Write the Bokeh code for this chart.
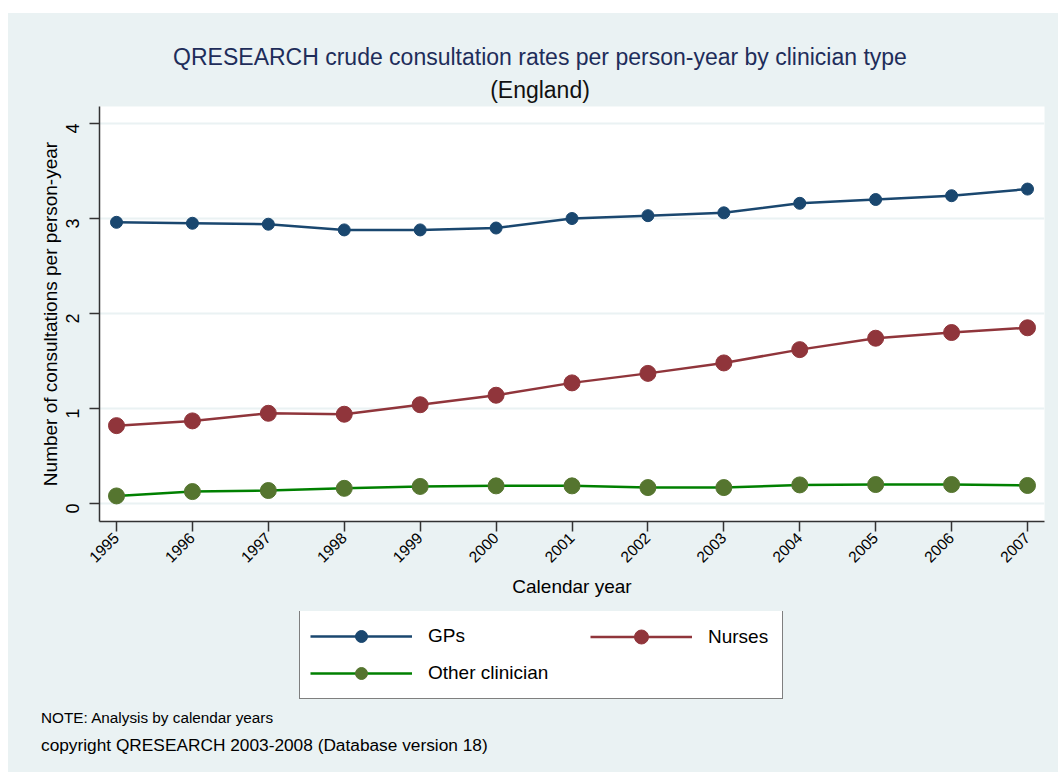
from math import pi
from bokeh.plotting import figure
from bokeh.models import (FixedTicker, Legend, LegendItem, Range1d, ColumnDataSource, Div, Spacer)
from bokeh.layouts import column, row
from bokeh.embed import file_html
from bokeh.resources import INLINE

years = [1995, 1996, 1997, 1998, 1999, 2000, 2001, 2002, 2003, 2004, 2005, 2006, 2007]
gps = [2.96, 2.95, 2.94, 2.88, 2.88, 2.90, 3.00, 3.03, 3.06, 3.16, 3.20, 3.24, 3.31]
nurses = [0.82, 0.87, 0.95, 0.94, 1.04, 1.14, 1.27, 1.37, 1.48, 1.62, 1.74, 1.80, 1.85]
other = [0.08, 0.126, 0.137, 0.16, 0.18, 0.186, 0.186, 0.168, 0.168, 0.196, 0.20, 0.20, 0.19]
y_ticks = [0, 1, 2, 3, 4]
series_cols = ["gps", "nurses", "other"]
series_names = ["GPs", "Nurses", "Other clinician"]
title_text = "QRESEARCH crude consultation rates per person-year by clinician type"
subtitle_text = "(England)"
note_text = "NOTE: Analysis by calendar years"
copyright_text = "copyright QRESEARCH 2003-2008 (Database version 18)"

BG = "#EAF2F3"
FONT = "Liberation Sans"
W = 1050
LINE_COLORS = ["#1a476f", "#90353b", "#008000"]
MARK_COLORS = ["#1a476f", "#90353b", "#55752f"]
MARK_SIZES = [12, 16, 16]

src = ColumnDataSource(dict(year=years, gps=gps, nurses=nurses, other=other))

# ---------- main chart ----------
p = figure(width=W, height=505, output_backend="svg", toolbar_location=None,
           x_range=Range1d(1994.776, 2007.224), y_range=Range1d(-0.189, 4.179),
           min_border_left=91, min_border_right=14, min_border_top=0, min_border_bottom=90)
p.border_fill_color = BG
p.background_fill_color = "white"
p.outline_line_color = None

for col, lc, mc, ms in zip(series_cols, LINE_COLORS, MARK_COLORS, MARK_SIZES):
    p.line("year", col, source=src, line_color=lc, line_width=2.5)
    p.scatter("year", col, source=src, size=ms, fill_color=mc, line_color=mc)

p.xgrid.grid_line_color = None
p.ygrid.grid_line_color = BG
p.ygrid.grid_line_width = 2

p.xaxis.ticker = FixedTicker(ticks=years)
p.yaxis.ticker = FixedTicker(ticks=y_ticks)
p.xaxis.major_label_orientation = pi / 4
p.yaxis.major_label_orientation = pi / 2
for ax in (p.xaxis, p.yaxis):
    ax.axis_line_color = "#333333"
    ax.axis_line_width = 1.5
    ax.major_tick_line_color = "#333333"
    ax.major_tick_line_width = 1.5
    ax.major_tick_out = 10
    ax.major_tick_in = 0
    ax.minor_tick_line_color = None
    ax.major_label_text_font = FONT
    ax.major_label_text_color = "black"
    ax.axis_label_text_font = FONT
    ax.axis_label_text_font_size = "19px"
    ax.axis_label_text_font_style = "normal"
    ax.axis_label_text_color = "black"
p.xaxis.major_label_text_font_size = "15.5px"
p.yaxis.major_label_text_font_size = "18px"
p.xaxis.axis_label = "Calendar year"
p.yaxis.axis_label = "Number of consultations per person-year"
p.xaxis.major_label_standoff = 4
p.yaxis.major_label_standoff = 17
p.xaxis.axis_label_standoff = 6
p.yaxis.axis_label_standoff = -4

# ---------- legend panel (its frame lines up with the chart frame) ----------
LH = 95
q = figure(width=W, height=LH, output_backend="svg", toolbar_location=None,
           x_range=Range1d(0, 1), y_range=Range1d(0, 1),
           min_border=0, x_axis_location=None, y_axis_location=None)
q.border_fill_color = BG
q.background_fill_color = BG
q.outline_line_color = None
q.grid.visible = False

items = {}
for col, name, lc, mc, ms in zip(series_cols, series_names, LINE_COLORS, MARK_COLORS, MARK_SIZES):
    # same data as the chart; this panel's ranges keep them out of view, only the legend shows
    r1 = q.line("year", col, source=src, line_color=lc, line_width=2.5)
    r2 = q.scatter("year", col, source=src, size=ms, fill_color=mc, line_color=mc)
    items[name] = LegendItem(label=name, renderers=[r1, r2])


def style_legend(lg, gh):
    lg.glyph_width = 102
    lg.glyph_height = gh
    lg.label_height = gh
    lg.label_standoff = 16
    lg.margin = 0
    lg.label_text_font = FONT
    lg.label_text_font_size = "19px"
    lg.label_text_color = "black"


# left column with the full box, right column (Nurses) drawn over it
legend_a = Legend(items=[items["GPs"], items["Other clinician"]], location=(200, 7))
style_legend(legend_a, 30)
legend_a.spacing = 7
legend_a.padding = 10
legend_a.label_width = 344
legend_a.border_line_color = "black"
legend_a.border_line_width = 1
legend_a.background_fill_color = "white"
legend_a.background_fill_alpha = 1

legend_b = Legend(items=[items["Nurses"]], location=(491, 52))
style_legend(legend_b, 35)
legend_b.spacing = 0
legend_b.padding = 0
legend_b.border_line_color = None
legend_b.background_fill_alpha = 0

q.add_layout(legend_a, "center")
q.add_layout(legend_b, "center")

# ---------- title and notes ----------
ff = "font-family:'Liberation Sans',Arial,sans-serif;"
title_html = (
    f'<div style="position:relative;width:{W}px;height:93px;{ff}">'
    f'<div style="position:absolute;left:0;top:30px;width:{W}px;padding-left:14px;box-sizing:border-box;'
    f'text-align:center;font-size:23px;line-height:28px;color:#1e2d5a;white-space:nowrap;">{title_text}</div>'
    f'<div style="position:absolute;left:0;top:63px;width:{W}px;padding-left:14px;box-sizing:border-box;'
    f'text-align:center;font-size:23px;line-height:28px;color:#111111;white-space:nowrap;">{subtitle_text}</div>'
    '</div>')
notes_html = (
    f'<div style="position:relative;width:{W}px;height:66px;{ff}color:black;">'
    f'<div style="position:absolute;left:33px;top:3px;font-size:15.3px;line-height:18px;white-space:nowrap;">{note_text}</div>'
    f'<div style="position:absolute;left:33px;top:29px;font-size:17.3px;line-height:20px;white-space:nowrap;">{copyright_text}</div>'
    '</div>')
div_style = {"background-color": BG, "margin": "0", "padding": "0"}
title_div = Div(text=title_html, width=W, height=93, styles=div_style)
notes_div = Div(text=notes_html, width=W, height=66, styles=div_style)

inner = column(title_div, p, q, notes_div, spacing=0, styles={"background-color": BG})
layout = column(Spacer(height=13), row(Spacer(width=8), inner, spacing=0), spacing=0)
open("out.html", "w").write(file_html(layout, INLINE))
